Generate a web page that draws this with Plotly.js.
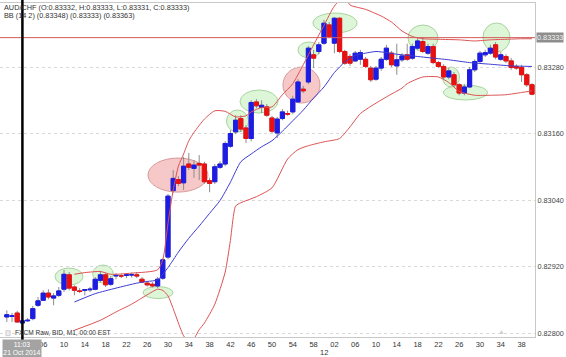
<!DOCTYPE html>
<html><head><meta charset="utf-8">
<script src="https://cdn.plot.ly/plotly-3.0.1.min.js"></script>
<style>html,body{margin:0;padding:0;background:#fff}</style>
</head><body><div id="chart" style="width:566px;height:357px"></div>
<script>
// ---- data (AUD/CHF, M1, minutes after 11:00) ----
const firstMinute = -1;
const open = [0.82829,0.82830,0.82836,0.82818,0.82822,0.82826,0.82850,0.82859,0.82872,0.82863,
0.82868,0.82879,0.82905,0.82883,0.82876,0.82877,0.82878,0.82879,0.82895,0.82905,
0.82888,0.82903,0.82903,0.82904,0.82905,0.82905,0.82897,0.82890,0.82888,0.82885,
0.82899,0.82937,0.83057,0.83077,0.83071,0.83105,0.83097,0.83106,0.83105,0.83075,
0.83073,0.83099,0.83105,0.83137,0.83163,0.83187,0.83170,0.83151,0.83217,0.83207,
0.83208,0.83188,0.83161,0.83187,0.83196,0.83199,0.83217,0.83240,0.83253,0.83302,
0.83308,0.83323,0.83356,0.83323,0.83368,0.83308,0.83299,0.83291,0.83294,0.83294,
0.83278,0.83258,0.83278,0.83294,0.83305,0.83282,0.83293,0.83302,0.83296,0.83314,
0.83326,0.83305,0.83317,0.83288,0.83281,0.83262,0.83266,0.83248,0.83233,0.83244,
0.83275,0.83290,0.83302,0.83305,0.83320,0.83294,0.83299,0.83291,0.83281,0.83279,
0.83266,0.83248];
const high = [0.82841,0.82836,0.82840,0.82826,0.82827,0.82849,0.82865,0.82877,0.82879,0.82872,
0.82883,0.82914,0.82910,0.82886,0.82881,0.82879,0.82883,0.82901,0.82912,0.82908,
0.82903,0.82908,0.82906,0.82908,0.82909,0.82910,0.82901,0.82894,0.82892,0.82901,
0.82935,0.83051,0.83094,0.83083,0.83118,0.83125,0.83112,0.83121,0.83109,0.83080,
0.83105,0.83110,0.83146,0.83166,0.83193,0.83193,0.83175,0.83220,0.83222,0.83220,
0.83213,0.83192,0.83190,0.83204,0.83201,0.83228,0.83258,0.83246,0.83318,0.83311,
0.83325,0.83365,0.83361,0.83370,0.83370,0.83311,0.83303,0.83309,0.83311,0.83298,
0.83282,0.83282,0.83298,0.83320,0.83309,0.83322,0.83305,0.83322,0.83322,0.83332,
0.83334,0.83322,0.83322,0.83291,0.83285,0.83278,0.83271,0.83251,0.83249,0.83280,
0.83294,0.83309,0.83311,0.83320,0.83325,0.83307,0.83303,0.83296,0.83285,0.83284,
0.83269,0.83251];
const low = [0.82820,0.82820,0.82818,0.82815,0.82820,0.82823,0.82847,0.82858,0.82861,0.82850,
0.82865,0.82874,0.82877,0.82868,0.82872,0.82868,0.82874,0.82877,0.82892,0.82883,
0.82885,0.82897,0.82899,0.82899,0.82900,0.82899,0.82891,0.82884,0.82882,0.82881,
0.82896,0.82933,0.83053,0.83065,0.83058,0.83094,0.83080,0.83076,0.83069,0.83054,
0.83069,0.83096,0.83101,0.83134,0.83159,0.83163,0.83143,0.83146,0.83206,0.83197,
0.83190,0.83161,0.83152,0.83184,0.83192,0.83195,0.83215,0.83233,0.83249,0.83278,
0.83303,0.83320,0.83332,0.83305,0.83305,0.83284,0.83282,0.83289,0.83284,0.83278,
0.83253,0.83255,0.83273,0.83291,0.83280,0.83266,0.83289,0.83291,0.83293,0.83311,
0.83305,0.83302,0.83285,0.83278,0.83258,0.83258,0.83244,0.83229,0.83229,0.83242,
0.83271,0.83287,0.83298,0.83302,0.83294,0.83291,0.83287,0.83275,0.83275,0.83253,
0.83244,0.83229];
const close = [0.82833,0.82831,0.82820,0.82822,0.82823,0.82844,0.82858,0.82872,0.82865,0.82867,
0.82876,0.82906,0.82881,0.82877,0.82875,0.82878,0.82879,0.82897,0.82905,0.82887,
0.82898,0.82904,0.82903,0.82905,0.82905,0.82903,0.82892,0.82887,0.82885,0.82897,
0.82932,0.83047,0.83079,0.83070,0.83101,0.83099,0.83103,0.83103,0.83073,0.83070,
0.83100,0.83105,0.83142,0.83160,0.83184,0.83168,0.83151,0.83216,0.83210,0.83211,
0.83193,0.83164,0.83186,0.83199,0.83195,0.83222,0.83253,0.83237,0.83314,0.83296,
0.83320,0.83359,0.83335,0.83368,0.83308,0.83287,0.83287,0.83305,0.83306,0.83281,
0.83257,0.83278,0.83294,0.83314,0.83284,0.83293,0.83300,0.83294,0.83317,0.83327,
0.83308,0.83317,0.83288,0.83281,0.83262,0.83273,0.83248,0.83233,0.83244,0.83275,
0.83290,0.83305,0.83306,0.83314,0.83298,0.83302,0.83291,0.83279,0.83278,0.83266,
0.83248,0.83231];

// Bollinger bands (minute, price)
const bbMidT = [12,16,20,24,26,28,30,32,34,36,38,40,42,44,46,48,50,52,54,56,58,60,62,64,66,68,70,72,74,76,80,84,88,92,96,100];
const bbMid = [0.82856,0.82871,0.82881,0.82890,0.82893,0.82896,0.82918,0.82946,0.82971,0.82993,0.83016,0.83039,0.83072,0.83109,0.83123,0.83136,0.83147,0.83164,0.83183,0.83202,0.83224,0.83244,0.83270,0.83289,0.83301,0.83305,0.83308,0.83306,0.83303,0.83301,0.83297,0.83293,0.83288,0.83285,0.83282,0.83281];
const bbUpT = [12,14,17,19,23,28,29,30,31,32,33,34,35,37,39,41,43,45,46,48,50,52,54,56,58,60,62,64,65,68,71,73,75,77,79,82,86,89,92,95,98,100];
const bbUp = [0.82906,0.82909,0.82911,0.82906,0.82908,0.82914,0.82932,0.82998,0.83058,0.83101,0.83123,0.83147,0.83162,0.83186,0.83201,0.83200,0.83190,0.83192,0.83199,0.83207,0.83208,0.83230,0.83250,0.83284,0.83320,0.83355,0.83390,0.83408,0.83392,0.83384,0.83372,0.83361,0.83345,0.83335,0.83331,0.83330,0.83329,0.83327,0.83329,0.83330,0.83331,0.83331];
const bbLoT = [12,17,20,23,26,28,29,30,31,32,33,34,35,36,37,39,41,42,43,44,47,50,53,55,57,60,63,65,67,69,72,75,76,79,82,84,86,89,92,95,98,100];
const bbLo = [0.82805,0.82823,0.82838,0.82852,0.82869,0.82879,0.82877,0.82867,0.82844,0.82818,0.82795,0.82784,0.82790,0.82806,0.82818,0.82852,0.82910,0.82967,0.83029,0.83035,0.83046,0.83062,0.83114,0.83131,0.83138,0.83145,0.83151,0.83172,0.83196,0.83209,0.83226,0.83242,0.83250,0.83262,0.83262,0.83252,0.83236,0.83229,0.83229,0.83230,0.83234,0.83237];

const tickMinutes = [6,10,14,18,22,26,30,34,38,42,46,50,54,58,62,66,70,74,78,82,86,90,94,98];
const tickLabels = ['06','10','14','18','22','26','30','34','38','42','46','50','54','58','02','06','10','14','18','22','26','30','34','38'];
const yTicks = [0.82800,0.82920,0.83040,0.83160,0.83280];
const currentPrice = 0.83333;
const crosshairMinute = 2;
const headerText = 'AUD/CHF (O:0.83332, H:0.83333, L:0.83331, C:0.83333)';
const bbText = 'BB (14 2) (0.83348) (0.83333) (0.83363)';
const sourceText = 'FXCM Raw, BID, M1, 00:00 EST';
const crosshairText = '11:03<br>21 Oct 2014';

// ---- build ----
const minutes = open.map((_, i) => firstMinute + i);
const bodyHigh = open.map((o, i) => Math.max(o, close[i]));
const bodyLow = open.map((o, i) => Math.min(o, close[i]));
const BLUE = '#1c1ce6', RED = '#ea1010', WICK = '#8c8c8c';

const traces = [
  {type:'scatter', mode:'lines', x:bbUpT, y:bbUp, line:{color:'#dd5252', width:1, shape:'spline', smoothing:0.6}, hoverinfo:'skip'},
  {type:'scatter', mode:'lines', x:bbLoT, y:bbLo, line:{color:'#dd5252', width:1, shape:'spline', smoothing:0.6}, hoverinfo:'skip'},
  {type:'scatter', mode:'lines', x:bbMidT, y:bbMid, line:{color:'#3c3cd2', width:1, shape:'spline', smoothing:0.6}, hoverinfo:'skip'},
  {type:'candlestick', x:minutes, open:open, high:high, low:low, close:close,
   increasing:{line:{color:WICK, width:1}, fillcolor:WICK},
   decreasing:{line:{color:WICK, width:1}, fillcolor:WICK}, whiskerwidth:0, hoverinfo:'skip'},
  {type:'candlestick', x:minutes, open:open, high:bodyHigh, low:bodyLow, close:close,
   increasing:{line:{color:BLUE, width:1}, fillcolor:BLUE},
   decreasing:{line:{color:RED, width:1}, fillcolor:RED}, whiskerwidth:0, hoverinfo:'skip'}
];

// highlight ellipses (centre minute, centre price, half-width in minutes, half-height in price, kind)
const highlights = [
  [10.96,0.829019,2.69,0.000153,'g'],[17.5,0.829064,1.98,0.000162,'g'],[28.08,0.82873,2.88,0.000108,'g'],
  [31.92,0.83085,5.77,0.000307,'r'],[43.37,0.831825,2.12,0.000199,'g'],[47.5,0.832177,3.65,0.000208,'g'],
  [55.67,0.832475,3.56,0.000325,'r'],[57.12,0.833107,2.12,0.000144,'g'],[62.12,0.833594,4.23,0.00018,'g'],
  [79.04,0.833323,2.88,0.000235,'g'],[84.42,0.83262,1.63,0.00018,'g'],[87.21,0.83234,4.23,0.000135,'g'],
  [93.17,0.833332,2.6,0.000262,'g']
];
const shapes = highlights.map(h => ({
  type:'circle', xref:'x', yref:'y', layer:'below',
  x0:h[0]-h[2], x1:h[0]+h[2], y0:h[1]-h[3], y1:h[1]+h[3],
  fillcolor: h[4]==='g' ? 'rgba(214,244,208,0.85)' : 'rgba(246,190,190,0.85)',
  line:{color: h[4]==='g' ? '#a9d3a0' : '#d89a9a', width:1}
}));
shapes.push({type:'line', xref:'paper', yref:'y', x0:0, x1:1, y0:currentPrice, y1:currentPrice, line:{color:'#d45a5a', width:1}});
shapes.push({type:'rect', xref:'paper', yref:'paper', x0:0.011, x1:0.019, y0:0.004, y1:0.019, fillcolor:'#eeeeee', line:{color:'#b5b5b5', width:0.6}});
shapes.push({type:'line', xref:'x', yref:'paper', x0:crosshairMinute, x1:crosshairMinute, y0:-0.022, y1:1.01, line:{color:'#000', width:2.5}});

const F = 'Liberation Sans, Arial, sans-serif';
const annotations = [
  {xref:'paper', yref:'paper', x:0.004, y:0.988, xanchor:'left', yanchor:'middle', showarrow:false, text:headerText, font:{family:F, size:7.3, color:'#333'}},
  {xref:'paper', yref:'paper', x:0.004, y:0.962, xanchor:'left', yanchor:'middle', showarrow:false, text:bbText, font:{family:F, size:7.3, color:'#333'}},
  {xref:'paper', yref:'paper', x:0.024, y:0.012, xanchor:'left', yanchor:'middle', showarrow:false, text:sourceText, font:{family:F, size:6.6, color:'#333'}},
  {xref:'paper', yref:'y', x:1, y:currentPrice, xanchor:'left', yanchor:'middle', xshift:1, showarrow:false, text:'0.83333', bgcolor:'#8e8e8e', borderpad:0, font:{family:F, size:7.3, color:'#f4f4f4'}},
  {xref:'x', yref:'paper', x:60, y:-0.027, yanchor:'top', showarrow:false, text:'12', font:{family:F, size:7.5, color:'#333'}},
  {xref:'paper', yref:'paper', x:0.041, y:-0.005, xanchor:'center', yanchor:'top', showarrow:false, text:crosshairText,
   bgcolor:'#a3a3a3', width:38, height:17, borderpad:0, font:{family:F, size:6.8, color:'#fff'}},
  {xref:'x', yref:'paper', x:94.2, y:0, yanchor:'bottom', showarrow:false, text:'▲', font:{family:F, size:7, color:'#cfcfcf'}}
];

const layout = {
  width:566, height:357, margin:{l:0, r:31, t:3, b:20},
  paper_bgcolor:'#fff', plot_bgcolor:'#fff', showlegend:false, hovermode:false,
  boxgap:0.2, boxgroupgap:0,
  xaxis:{range:[-2.31, 100.58], rangeslider:{visible:false}, tickmode:'array', tickvals:tickMinutes, ticktext:tickLabels,
         showgrid:false, zeroline:false, showline:true, linecolor:'#c8c8c8', linewidth:1, mirror:true, ticks:'',
         tickfont:{family:F, size:7.5, color:'#333'}},
  yaxis:{side:'right', range:[0.827928, 0.833955], tickmode:'array', tickvals:yTicks, ticktext:yTicks.map(v=>v.toFixed(5)),
         showgrid:true, gridcolor:'#d9d9d9', griddash:'dot', gridwidth:1, zeroline:false, showline:true, linecolor:'#c8c8c8', mirror:true, ticks:'',
         tickfont:{family:F, size:7.3, color:'#444'}},
  shapes:shapes, annotations:annotations
};
Plotly.newPlot('chart', traces, layout, {displayModeBar:false, staticPlot:true});
</script></body></html>
